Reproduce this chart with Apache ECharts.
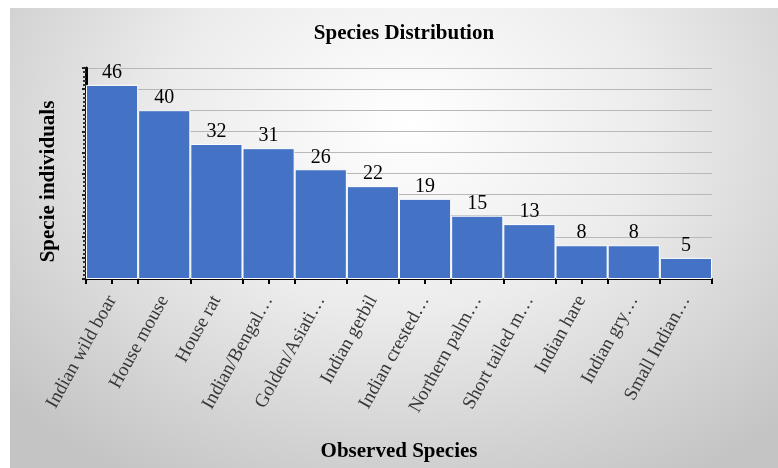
<!DOCTYPE html>
<html>
<head>
<meta charset="utf-8">
<script src="https://cdn.jsdelivr.net/npm/echarts@6/dist/echarts.min.js"></script>
<style>
html,body{margin:0;padding:0;background:#fff;}
#wrap{position:absolute;left:10px;top:8px;width:768px;height:460px;
background:radial-gradient(ellipse 70% 90% at 52% 25%, #ffffff 0%, #ececec 45%, #d2d2d2 80%, #c4c4c4 100%);}
#chart{position:absolute;left:-10px;top:-8px;width:778px;height:468px;}
</style>
</head>
<body>
<div id="wrap"><div id="chart"></div></div>
<script>
const categories = ["Indian wild boar","House mouse","House rat","Indian/Bengal…","Golden/Asiati…","Indian gerbil","Indian crested…","Northern palm…","Short tailed m…","Indian hare","Indian gry…","Small Indian…"];
const values = [46,40,32,31,26,22,19,15,13,8,8,5];
const yMin = 0, yMax = 50, yInterval = 5;

const serif = '"Liberation Serif","DejaVu Serif",serif';
const chart = echarts.init(document.getElementById('chart'), null, {renderer:'canvas'});
chart.setOption({
  backgroundColor: 'transparent',
  animation: false,
  title: {
    text: 'Species Distribution', left: 399, top: 18, textAlign: 'center',
    textStyle: {fontFamily: serif, fontSize: 21, fontWeight: 'bold', color: '#000'}
  },
  grid: {left: 86, right: 66, top: 68, bottom: 189, containLabel: false},
  xAxis: [{
    type: 'category', data: categories,
    axisLine: {lineStyle: {color: '#000', width: 2}},
    axisTick: {show: true, length: 5, lineStyle: {color: '#000', width: 2}},
    axisLabel: {rotate: 61, margin: 18, fontFamily: serif, fontSize: 19, color: '#383838', interval: 0},
    name: 'Observed Species', nameLocation: 'middle', nameGap: 162,
    nameTextStyle: {fontFamily: serif, fontSize: 21, fontWeight: 'bold', color: '#000'}
  },{
    type: 'category', data: categories, position: 'bottom',
    axisLine: {show: false},
    axisTick: {show: true, alignWithLabel: true, length: 5, lineStyle: {color: '#000', width: 2}},
    axisLabel: {show: false}
  }],
  yAxis: {
    type: 'value', min: yMin, max: yMax, interval: yInterval,
    axisLine: {show: true, lineStyle: {color: '#000', width: 3}},
    axisTick: {show: true, length: 4, lineStyle: {color: '#222', width: 2}},
    minorTick: {show: true, splitNumber: 5, length: 3, lineStyle: {color: '#333', width: 2}},
    axisLabel: {show: false},
    splitLine: {show: true, lineStyle: {color: '#b8b8b8', width: 1}},
    name: 'Specie individuals', nameLocation: 'middle', nameGap: 27,
    nameTextStyle: {fontFamily: serif, fontSize: 21, fontWeight: 'bold', color: '#000', padding: [0, 16, 0, 0]}
  },
  series: [{
    type: 'bar', data: values, barCategoryGap: '0%',
    itemStyle: {color: '#4472C4', borderColor: '#ffffff', borderWidth: 1},
    label: {show: true, position: 'top', distance: 2, fontFamily: serif, fontSize: 20, color: '#000'}
  }]
});
</script>
</body>
</html>
